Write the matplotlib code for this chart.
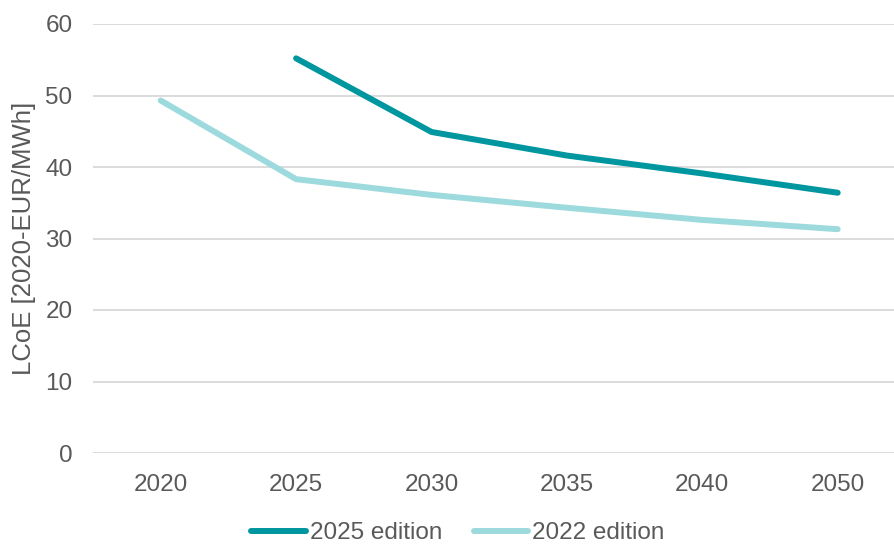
import matplotlib
matplotlib.use("Agg")
import matplotlib.pyplot as plt
import numpy as np

categories = ["2020", "2025", "2030", "2035", "2040", "2050"]
edition_2025 = [np.nan, 55.2, 44.9, 41.6, 39.1, 36.4]
edition_2022 = [49.3, 38.3, 36.1, 34.3, 32.6, 31.3]
series_names = ["2025 edition", "2022 edition"]
yticks = [0, 10, 20, 30, 40, 50, 60]

plt.rcParams['font.family'] = ['Liberation Sans', 'DejaVu Sans']
text_color = "#595959"
dark = "#00969F"
light = "#9DDADD"

fig = plt.figure(figsize=(8.94, 5.45), dpi=100)
W, H = 894, 545
left, right = 93, 894
top, bottom = 24, 453
ax = fig.add_axes([left / W, 1 - bottom / H, (right - left) / W, (bottom - top) / H])

x = np.arange(len(categories))
ax.plot(x, edition_2025, color=dark, lw=4.3, solid_capstyle='round', solid_joinstyle='round', label=series_names[0], zorder=3)
ax.plot(x, edition_2022, color=light, lw=4.3, solid_capstyle='round', solid_joinstyle='round', label=series_names[1], zorder=3)

spacing = 135.4
ax.set_xlim(-0.5, -0.5 + (right - left) / spacing)
ax.set_ylim(0, 60)
ax.set_yticks(yticks)
ax.set_xticks(x)
ax.set_xticklabels(categories)
ax.grid(axis='y', color="#D9D9D9", lw=1.3)
ax.set_axisbelow(True)
for s in ax.spines.values():
    s.set_visible(False)
ax.tick_params(axis='both', length=0, labelsize=17.5, colors=text_color)
ax.tick_params(axis='y', pad=14.7)
ax.tick_params(axis='x', pad=15)
ax.set_ylabel("LCoE [2020-EUR/MWh]", fontsize=18.5, color=text_color, labelpad=6.5)

leg = fig.legend(loc='center', bbox_to_anchor=(458 / W, 1 - 533 / H), ncol=2, frameon=False,
                 fontsize=17.5, handlelength=2.25, handletextpad=0.15, columnspacing=1.3)
for t in leg.get_texts():
    t.set_color(text_color)

fig.savefig("out.png", dpi=100)
